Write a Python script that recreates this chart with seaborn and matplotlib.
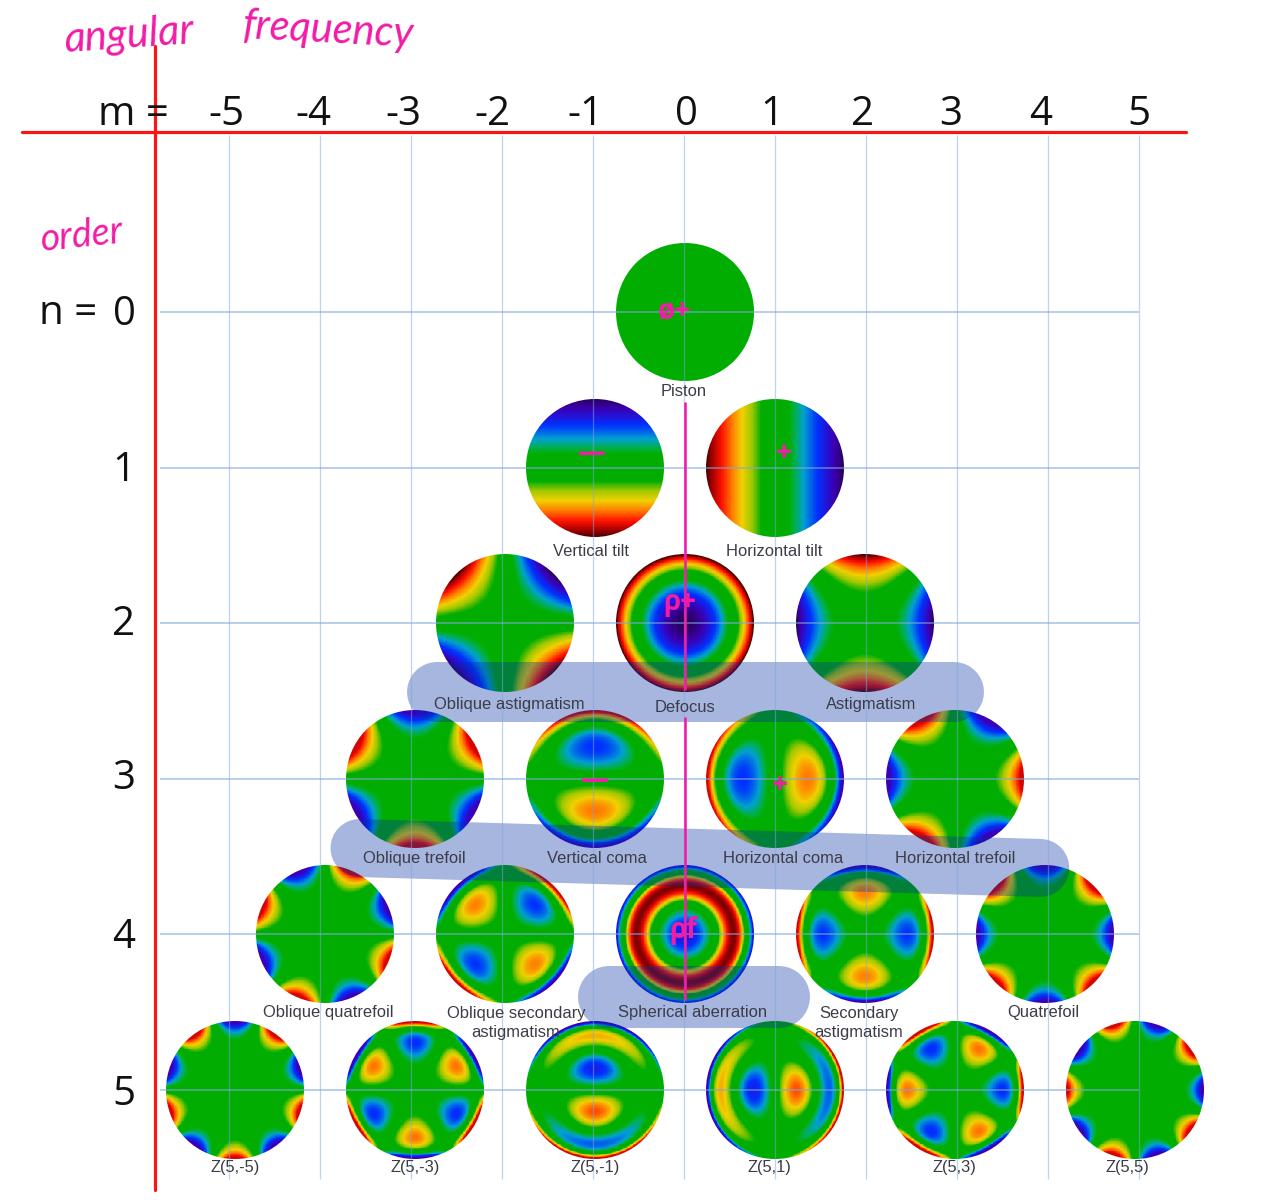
import numpy as np
import matplotlib
matplotlib.use("Agg")
import matplotlib.pyplot as plt
from matplotlib.colors import LinearSegmentedColormap
from matplotlib.patches import Circle
import seaborn as sns
from math import factorial

# ── Data ──────────────────────────────────────────────────────────────────────
M_TICKS = [-5, -4, -3, -2, -1, 0, 1, 2, 3, 4, 5]
N_TICKS = [0, 1, 2, 3, 4, 5]

DISC_N = [0, 1, 1, 2, 2, 2, 3, 3, 3, 3, 4, 4, 4, 4, 4, 5, 5, 5, 5, 5, 5]
DISC_M = [0, -1, 1, -2, 0, 2, -3, -1, 1, 3, -4, -2, 0, 2, 4, -5, -3, -1, 1, 3, 5]
# sign and colour gain of each mode (piston is flat green)
DISC_SIGN = [0, -1, -1, -1, 1, -1, 1, 1, -1, 1, -1, 1, -1, 1, -1, -1, -1, -1, 1, 1, -1]
DISC_GAIN = [1, 1, 1, 1, 1, 1, 1, 1, 1, 1, 1, 1.1, 1.9, 1.1, 1, 1, 1.2, 1.15, 1.15, 1.2, 1]
DISC_LABELS = [
    "Piston", "Vertical tilt", "Horizontal tilt",
    "Oblique astigmatism", "Defocus", "Astigmatism",
    "Oblique trefoil", "Vertical coma", "Horizontal coma", "Horizontal trefoil",
    "Oblique quatrefoil", "Oblique secondary\nastigmatism", "Spherical aberration",
    "Secondary\nastigmatism", "Quatrefoil",
    "Z(5,-5)", "Z(5,-3)", "Z(5,-1)", "Z(5,1)", "Z(5,3)", "Z(5,5)",
]
# handwritten notes sitting on some of the discs
NOTE_N = [0, 1, 1, 2, 3, 3, 4]
NOTE_M = [0, -1, 1, 0, -1, 1, 0]
NOTE_TEXT = ["ø+", "—", "+", "ρ+", "—", "+", "ρf"]

# ── Layout ────────────────────────────────────────────────────────────────────
PINK = "#f21ca6"
RED = "#fb1414"
WIDTH, HEIGHT = 1284, 1200
M_ZERO, M_PITCH = 684, 90.9       # pixels
N_ZERO, N_PITCH = 312, 155.6
DISC_PITCH = 0.99                 # discs sit on a slightly tighter spacing than the grid
DISC_R = 69
TICK_DX = [-3, -7, -8, -10, -8, 2, -3, -3, -6, -7, 0]
N_TICK_DY = [3, 3, 2, 0, 3, 5]
LABEL_DX = [0, -3, 0, 5, 1, 7, 0, 3, 9, 1, 4, 12, 9, -5, -1, 1, 1, 1, -5, 0, -7]
LABEL_DY = [.51, .54, .54, .52, .54, .52, .51, .51, .51, .51, .50, .57, .50, .57, .50, .50, .50, .50, .50, .50, .50]
NOTE_DX = [-10, -2, 10, -4, 1, 6, -1]
NOTE_DY = [-1, -14, -14, -21, 2, 7, -4]
BANDS = [((-2.72, 2.44), (2.97, 2.44), 60), ((-3.57, 3.445), (3.92, 3.573), 58), ((-0.82, 4.40), (1.04, 4.40), 62)]

jet_flat = LinearSegmentedColormap.from_list("jet_flat", [
    (0.00, "#2a0060"), (0.075, "#3a00b8"), (0.19, "#0030ff"), (0.29, "#00a0d0"),
    (0.36, "#00b040"), (0.40, "#00ad00"), (0.60, "#00ad00"), (0.67, "#a0c800"),
    (0.74, "#f0d000"), (0.81, "#ff8000"), (0.89, "#ff1000"), (0.96, "#a00000"),
    (1.00, "#500000"),
])


def radial(n, m, r):
    m = abs(m)
    out = np.zeros_like(r)
    for k in range((n - m) // 2 + 1):
        c = (-1) ** k * factorial(n - k) / (
            factorial(k) * factorial((n + m) // 2 - k) * factorial((n - m) // 2 - k))
        out += c * r ** (n - 2 * k)
    return out


def zernike(n, m, sign, gain, size=180):
    x = np.linspace(-1, 1, size)
    xx, yy = np.meshgrid(x, x[::-1])
    r = np.minimum(np.hypot(xx, yy), 1.0)
    t = np.arctan2(yy, xx)
    ang = np.ones_like(t) if m == 0 else (np.cos(m * t) if m > 0 else np.sin(-m * t))
    z = sign * radial(n, m, r) * ang * gain
    if n == 4 and m == 0:
        z = np.where(z < 0, z * 0.4, z)   # blue core stays light in the spherical disc
    elif n >= 3:
        z = np.clip(z, -0.85, 0.85)       # rims of the higher modes never reach the dark ends
    return z


def main():
    sns.set_theme(style="white")
    plt.rcParams["font.family"] = ["Open Sans", "DejaVu Sans"]
    px = 72 / 100

    fig = plt.figure(figsize=(WIDTH / 100, HEIGHT / 100), dpi=100)
    ax = fig.add_axes([0, 0, 1, 1])
    ax.set_xlim(-M_ZERO / M_PITCH, (WIDTH - M_ZERO) / M_PITCH)
    ax.set_ylim((HEIGHT - N_ZERO) / N_PITCH, -N_ZERO / N_PITCH)
    ax.axis("off")

    # discs, one small heatmap each
    for n, m, sign, gain in zip(DISC_N, DISC_M, DISC_SIGN, DISC_GAIN):
        z = zernike(n, m, sign, gain)
        cx, cy = ax.transLimits.transform((m * DISC_PITCH + 1 / M_PITCH, n))
        w, h = 2 * DISC_R / WIDTH, 2 * DISC_R / HEIGHT
        inset = ax.inset_axes([cx - w / 2, cy - h / 2, w, h], zorder=1)
        sns.heatmap(z, cmap=jet_flat, vmin=-1, vmax=1, cbar=False,
                    xticklabels=False, yticklabels=False, ax=inset)
        mid = z.shape[0] / 2
        inset.collections[0].set_clip_path(Circle((mid, mid), mid, transform=inset.transData))
        inset.axis("off")

    # highlighter bands
    for (x0, y0), (x1, y1), thick in BANDS:
        ax.plot([x0, x1], [y0, y1], color="#002ea6", alpha=0.35, lw=thick * px,
                solid_capstyle="round", zorder=2)

    # grid
    ax.vlines(M_TICKS, -1.14, 5.57, color="#7fa8dc", alpha=0.5, lw=1.3 * px, zorder=3)
    ax.hlines(N_TICKS, -5.77, 5, color="#7fa8dc", alpha=0.6, lw=1.8 * px, zorder=3)

    # pink centre line, broken around the Defocus label
    ax.vlines([0.01, 0.01], [0.578, 2.60], [2.43, 4.42], color=PINK, lw=2.6 * px, zorder=4)

    # red axes
    ax.axhline(-1.155, 0.017, 0.924, color=RED, lw=3.2 * px, zorder=5)
    ax.axvline(-5.82, 0.008, 0.962, color=RED, lw=3.2 * px, zorder=5)

    # tick labels
    for m, dx in zip(M_TICKS, TICK_DX):
        ax.text(m + dx / M_PITCH, -1.27, str(m), ha="center", va="center",
                fontsize=29, color="#111111", zorder=6)
    ax.text(-6.06, -1.27, "m =", ha="center", va="center", fontsize=29, color="#111111", zorder=6)
    for n, dy in zip(N_TICKS, N_TICK_DY):
        ax.text(-6.16, n + dy / N_PITCH, str(n), ha="center", va="center",
                fontsize=29, color="#111111", zorder=6)
    ax.text(-6.78, 0.01, "n =", ha="center", va="center", fontsize=29, color="#111111", zorder=6)

    # disc labels
    for n, m, label, dx, dy in zip(DISC_N, DISC_M, DISC_LABELS, LABEL_DX, LABEL_DY):
        ax.text(m * DISC_PITCH + dx / M_PITCH, n + dy, label, ha="center", va="center",
                family=["Liberation Sans"], fontsize=11.9, color="#3c3c48",
                linespacing=1.35, zorder=6)

    # handwritten notes
    for n, m, note, dx, dy in zip(NOTE_N, NOTE_M, NOTE_TEXT, NOTE_DX, NOTE_DY):
        ax.text(m * DISC_PITCH + dx / M_PITCH, n + dy / N_PITCH, note,
                ha="center", va="center", fontsize=20, weight="bold", color=PINK, zorder=6)
    ax.text(-6.1, -1.78, "angular", ha="center", va="center", family=["Lato"], style="italic",
            fontsize=30, color=PINK, rotation=4, zorder=6)
    ax.text(-3.92, -1.81, "frequency", ha="center", va="center", family=["Lato"], style="italic",
            fontsize=30, color=PINK, rotation=-3, zorder=6)
    ax.text(-6.62, -0.49, "order", ha="center", va="center", family=["Lato"], style="italic",
            fontsize=27, color=PINK, rotation=6, zorder=6)

    fig.savefig("out.png", dpi=100)
    plt.close(fig)


if __name__ == "__main__":
    main()
